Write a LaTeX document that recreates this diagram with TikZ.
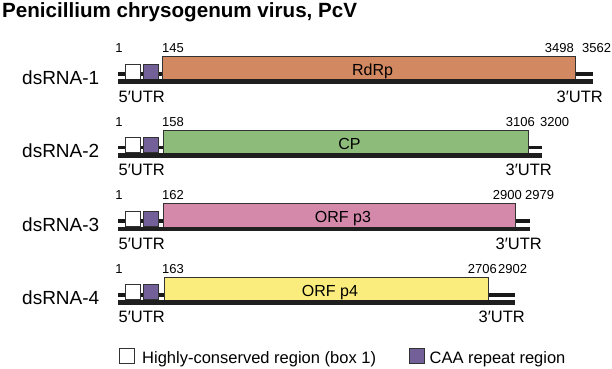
\documentclass[tikz,border=0pt]{standalone}
\usepackage{fontspec}
\setmainfont{Liberation Sans}
\definecolor{cRdRp}{RGB}{210,136,96}
\definecolor{cCP}{RGB}{141,187,121}
\definecolor{cP3}{RGB}{212,137,170}
\definecolor{cP4}{RGB}{250,237,126}
\definecolor{cCAA}{RGB}{115,96,152}
\definecolor{cEdge}{RGB}{50,50,50}
\begin{document}
\begin{tikzpicture}[x=1pt,y=-1pt,
  orfbox/.style={draw=cEdge, line width=1pt, inner sep=0pt, minimum height=24pt},
  orftext/.style={inner sep=0pt, anchor=base, font=\fontsize{16}{16}\selectfont},
  smallbox/.style={draw=cEdge, line width=1pt, inner sep=0pt, minimum width=15pt, minimum height=15pt, anchor=north west},
  num/.style={inner sep=0pt, font=\fontsize{13}{13}\selectfont},
  utr/.style={inner sep=0pt, font=\fontsize{16.5}{17}\selectfont},
  rowlab/.style={inner sep=0pt, anchor=base west, font=\fontsize{19}{19}\selectfont},
  thinline/.style={line width=3.6pt, black!90},
  thickline/.style={line width=4.6pt, black!88},
  legtext/.style={inner sep=0pt, anchor=base west, font=\fontsize{16.5}{17}\selectfont}]
\useasboundingbox (0,0) rectangle (612,368);
\node[inner sep=0pt, anchor=base west, font=\fontsize{20.6}{21}\selectfont\bfseries] (title) at (2,17) {Penicillium chrysogenum virus, PcV};
\foreach \i/\xs/\xe/\le/\col/\nm/\ns/\ne/\nt/\nex/\ntx/\ux in {
  1/162/575/593/cRdRp/RdRp/145/3498/3562/574/582/603,
  2/163/528/542/cCP/CP/158/3106/3200/535/540/552,
  3/163/515/530/cP3/ORF p3/162/2900/2979/522/525/542,
  4/164/488/515/cP4/ORF p4/163/2706/2902/497/498/525}{
  \pgfmathsetmacro{\dy}{73.6*(\i-1)}
  \coordinate (ls\i) at (118,74+\dy);
  \coordinate (le\i) at (\le,74+\dy);
  \coordinate (bs\i) at (118,81.6+\dy);
  \coordinate (be\i) at (\le,81.6+\dy);
  \draw[thinline] (ls\i) -- (le\i);
  \node[orfbox, fill=\col, minimum width={\xe-\xs}, anchor=north west] (orf\i) at (\xs,56+\dy) {};
  \node[orftext] (orflab\i) at ({(\xs+\xe)/2+4},75.5+\dy) {\nm};
  \node[smallbox, fill=white] (hc\i) at (124.5,63.5+\dy) {};
  \node[smallbox, fill=cCAA] (caa\i) at (142.5,63.5+\dy) {};
  \draw[thickline] (bs\i) -- (be\i);
  \node[rowlab] (row\i) at (22,84+\dy) {dsRNA-\i};
  \node[num, anchor=base] (one\i) at (119,52.5+\dy) {1};
  \node[num, anchor=base west] (start\i) at (162,52.5+\dy) {\ns};
  \node[num, anchor=base east] (end\i) at (\nex,52.5+\dy) {\ne};
  \node[num, anchor=base west] (tot\i) at (\ntx,52.5+\dy) {\nt};
  \node[utr, anchor=base west] (five\i) at (118.5,102+\dy) {5′UTR};
  \node[utr, anchor=base east] (three\i) at (\ux,102+\dy) {3′UTR};
}
\node[smallbox, fill=white] (leghc) at (118.5,348) {};
\node[legtext] (legt1) at (142,363) {Highly-conserved region (box 1)};
\node[smallbox, fill=cCAA] (legcaa) at (409,348) {};
\node[legtext] (legt2) at (429.5,363) {CAA repeat region};
\end{tikzpicture}
\end{document}
